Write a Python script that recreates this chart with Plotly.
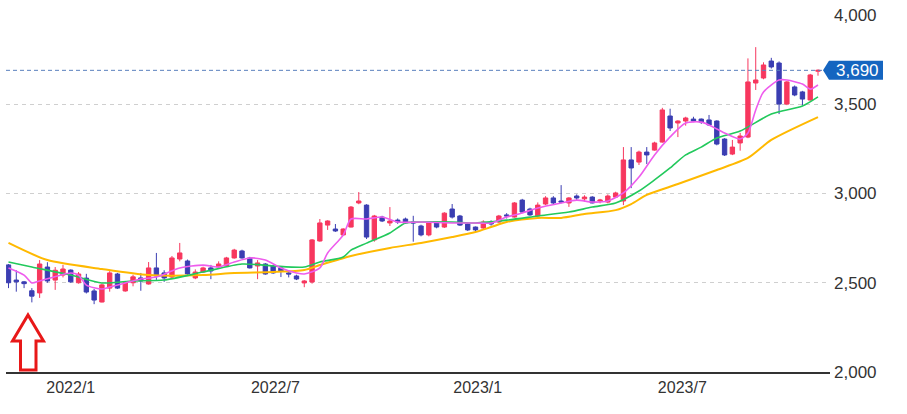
import pandas as pd
import plotly.graph_objects as go

# ---------------- data (weekly candles) ----------------
start_date = "2021-11-08"
n_weeks = 105

opens = [2600, 2515, 2505, 2455, 2443, 2588, 2515, 2543, 2571, 2500,
         2526, 2454, 2392, 2470, 2549, 2454, 2500, 2527, 2493, 2583,
         2555, 2532, 2633, 2622, 2527, 2560, 2583, 2588, 2594, 2639,
         2678, 2639, 2594, 2605, 2594, 2583, 2555, 2538, 2499, 2504,
         2734, 2823, 2801, 2768, 2812, 2947, 2935, 2740, 2868, 2835,
         2851, 2857, 2840, 2818, 2768, 2835, 2812, 2913, 2874, 2829,
         2812, 2807, 2840, 2840, 2880, 2868, 2963, 2913, 2874, 2941,
         2975, 2958, 2947, 2986, 2970, 2980, 2958, 2952, 2980, 2958,
         3188, 3176, 3232, 3243, 3288, 3434, 3395, 3406, 3417, 3417,
         3412, 3406, 3305, 3221, 3283, 3316, 3619, 3647, 3742, 3731,
         3501, 3597, 3569, 3524, 3685]
highs = [2605, 2570, 2510, 2470, 2627, 2615, 2588, 2600, 2575, 2560,
         2550, 2465, 2495, 2565, 2555, 2510, 2545, 2555, 2616, 2667,
         2570, 2650, 2723, 2630, 2575, 2590, 2600, 2620, 2645, 2690,
         2685, 2645, 2627, 2610, 2600, 2590, 2565, 2545, 2515, 2745,
         2857, 2850, 2829, 2805, 2930, 3008, 2940, 2880, 2875, 2924,
         2860, 2865, 2875, 2825, 2840, 2840, 2895, 2941, 2880, 2835,
         2815, 2850, 2850, 2880, 2890, 2952, 2970, 2920, 2950, 2985,
         2985, 3047, 2980, 2995, 2990, 2985, 2970, 2995, 3010, 3260,
         3260, 3240, 3260, 3290, 3480, 3475, 3410, 3430, 3430, 3420,
         3440, 3410, 3310, 3300, 3340, 3757, 3820, 3735, 3760, 3740,
         3630, 3605, 3575, 3670, 3695]
lows = [2470, 2450, 2470, 2390, 2415, 2500, 2460, 2530, 2500, 2495,
        2440, 2380, 2390, 2450, 2465, 2450, 2480, 2455, 2490, 2516,
        2505, 2520, 2620, 2540, 2520, 2555, 2520, 2580, 2590, 2635,
        2635, 2580, 2520, 2545, 2550, 2532, 2530, 2515, 2475, 2495,
        2730, 2796, 2785, 2765, 2810, 2940, 2745, 2730, 2840, 2818,
        2830, 2830, 2730, 2760, 2760, 2805, 2807, 2860, 2818, 2790,
        2790, 2800, 2820, 2835, 2860, 2865, 2890, 2875, 2870, 2935,
        2940, 2945, 2925, 2960, 2955, 2945, 2945, 2945, 2975, 2935,
        3030, 3160, 3165, 3240, 3285, 3350, 3316, 3380, 3400, 3390,
        3380, 3270, 3210, 3215, 3240, 3310, 3580, 3640, 3700, 3445,
        3495, 3545, 3495, 3520, 3660]
closes = [2500, 2505, 2495, 2425, 2605, 2510, 2570, 2577, 2505, 2549,
          2448, 2403, 2488, 2555, 2470, 2504, 2533, 2510, 2583, 2538,
          2527, 2639, 2667, 2549, 2560, 2583, 2566, 2605, 2639, 2683,
          2639, 2583, 2611, 2549, 2555, 2566, 2549, 2521, 2510, 2740,
          2835, 2846, 2790, 2801, 2924, 2958, 2756, 2874, 2846, 2846,
          2840, 2835, 2835, 2768, 2835, 2812, 2890, 2868, 2823, 2796,
          2796, 2840, 2829, 2874, 2874, 2947, 2896, 2880, 2935, 2975,
          2947, 2952, 2975, 2975, 2980, 2947, 2963, 2986, 3003, 3188,
          3143, 3232, 3216, 3283, 3468, 3367, 3406, 3423, 3406, 3400,
          3384, 3277, 3216, 3260, 3322, 3625, 3636, 3720, 3709, 3501,
          3625, 3552, 3529, 3664, 3690]

# moving averages (week index -> value)
ma_short_idx = [0, 2, 3, 4, 8, 9, 10, 12, 13, 15, 17, 19, 22, 25, 27, 29, 31, 33,
                35, 37, 38, 40, 41, 43, 44, 46, 48, 50, 53, 57, 60, 62, 64, 66, 68,
                71, 73, 75, 77, 79, 81, 83, 85, 87, 89, 90, 92, 94, 95, 96, 97, 99,
                100, 102, 103, 104]
ma_short_val = [2583, 2543, 2499, 2510, 2555, 2543, 2487, 2465, 2476, 2499, 2521,
                2532, 2583, 2599, 2588, 2616, 2639, 2627, 2583, 2555, 2549, 2583,
                2667, 2767, 2857, 2857, 2868, 2840, 2840, 2835, 2835, 2835, 2868,
                2891, 2919, 2947, 2963, 2952, 2958, 3003, 3092, 3216, 3317, 3395,
                3400, 3384, 3339, 3305, 3339, 3468, 3569, 3636, 3636, 3613, 3585,
                3608]
ma_mid_idx = [0, 3, 8, 12, 16, 20, 25, 30, 34, 38, 40, 43, 44, 46, 49, 51, 53, 57,
              60, 64, 68, 72, 75, 78, 81, 83, 85, 87, 89, 91, 94, 98, 102, 104]
ma_mid_val = [2616, 2588, 2543, 2499, 2510, 2515, 2560, 2605, 2594, 2588, 2616,
              2644, 2683, 2722, 2779, 2835, 2840, 2840, 2835, 2851, 2874, 2896,
              2924, 2947, 3014, 3076, 3143, 3216, 3260, 3311, 3350, 3445, 3490,
              3541]
ma_long_idx = [0, 5, 12, 18, 25, 29, 34, 38, 40, 44, 49, 53, 57, 60, 62, 64, 68, 71,
               74, 78, 80, 82, 86, 91, 95, 98, 104]
ma_long_val = [2723, 2627, 2577, 2543, 2543, 2555, 2560, 2571, 2599, 2650, 2695,
               2723, 2756, 2784, 2812, 2840, 2863, 2863, 2885, 2907, 2941, 2992,
               3053, 3132, 3199, 3300, 3428]

last_price = 3690
y_ticks = [2000, 2500, 3000, 3500, 4000]
y_ticktext = ["2,000", "2,500", "3,000", "3,500", "4,000"]
x_tickdates = ["2022-01-03", "2022-07-06", "2023-01-04", "2023-07-07"]
x_ticktext = ["2022/1", "2022/7", "2023/1", "2023/7"]

# ---------------- styling ----------------
RED = "#f7375e"
BLUE = "#3b3eb2"
PINK = "#ee5ced"
GREEN = "#22c95c"
YELLOW = "#ffb900"
LABEL_BLUE = "#1565c0"
FONT = "Liberation Sans, Arial, sans-serif"

dates = pd.date_range(start_date, periods=n_weeks, freq="7D")

fig = go.Figure()
fig.add_trace(go.Candlestick(
    x=dates, open=opens, high=highs, low=lows, close=closes,
    increasing=dict(line=dict(color=RED, width=1), fillcolor=RED),
    decreasing=dict(line=dict(color=BLUE, width=1), fillcolor=BLUE),
    whiskerwidth=0, hoverinfo="skip",
))
for idx, vals, col, w in [
    (ma_long_idx, ma_long_val, YELLOW, 2),
    (ma_mid_idx, ma_mid_val, GREEN, 1.6),
    (ma_short_idx, ma_short_val, PINK, 1.6),
]:
    fig.add_trace(go.Scatter(
        x=[dates[i] for i in idx], y=vals, mode="lines",
        line=dict(color=col, width=w, shape="spline", smoothing=0.7),
        hoverinfo="skip",
    ))

# last-price dashed line
fig.add_shape(type="line", xref="paper", x0=0, x1=1, yref="y", y0=last_price, y1=last_price,
              line=dict(color="#5a80bd", width=1, dash="4px,3px"))
# last-price label box with left pointer
fig.add_shape(type="path", xref="paper", xsizemode="pixel", xanchor=1,
              yref="y", ysizemode="pixel", yanchor=last_price,
              path="M -7,0 L -1,9.5 L 53,9.5 L 53,-9.5 L -1,-9.5 Z",
              fillcolor=LABEL_BLUE, line=dict(width=0), layer="above")
fig.add_annotation(xref="paper", x=1, xanchor="center", xshift=27, yref="y", y=last_price,
                   text=f"{last_price:,}", showarrow=False,
                   font=dict(family=FONT, size=17, color="white"))

# red outline arrow (decoration)
fig.add_shape(type="path", xref="paper", xsizemode="pixel", xanchor=0,
              yref="paper", ysizemode="pixel", yanchor=0,
              path="M 22,57 L 37.5,31 L 30,31 L 30,2 L 14.5,2 L 14.5,31 L 6.5,31 Z",
              fillcolor="white", line=dict(color="#e81818", width=3), layer="above")

fig.update_layout(
    width=907, height=414,
    margin=dict(l=6, r=77, t=15, b=42),
    paper_bgcolor="white", plot_bgcolor="white",
    showlegend=False,
    boxgap=0.2,
    font=dict(family=FONT, size=16, color="#333333"),
    xaxis=dict(
        type="date", range=["2021-11-05 18:00", "2023-11-16 19:00"],
        rangeslider=dict(visible=False), showgrid=False,
        showline=True, linecolor="#333333", linewidth=1.5,
        tickvals=x_tickdates, ticktext=x_ticktext, ticks="",
        tickfont=dict(family=FONT, size=16, color="#333333"),
        zeroline=False,
    ),
    yaxis=dict(
        side="right", range=[2000, 4000],
        tickvals=y_ticks, ticktext=y_ticktext, ticks="",
        showgrid=True, gridcolor="#cfcfcf", gridwidth=1, griddash="4px,4px",
        zeroline=False, showline=False, ticklabelstandoff=3,
        tickfont=dict(family=FONT, size=17, color="#333333"),
    ),
)

fig.write_html("out.html")
